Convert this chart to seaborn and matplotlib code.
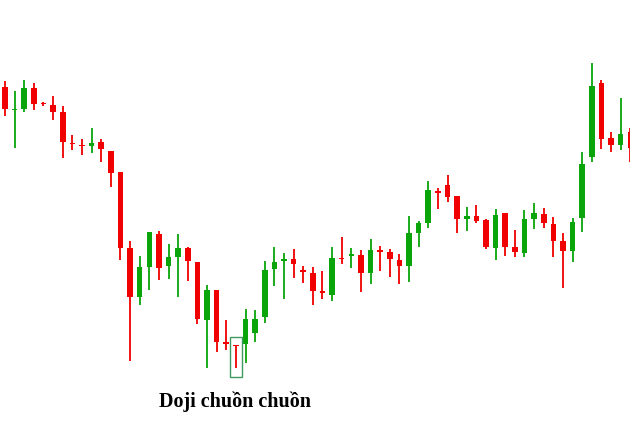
import numpy as np
import pandas as pd
import matplotlib
matplotlib.use("Agg")
import matplotlib.pyplot as plt
import seaborn as sns
from matplotlib.patches import Rectangle

opens  = [341,318,319,340,325,323,316,285,283,282,286,277,256,180,131,161,194,162,171,180,166,108,138,86,83,84,95,111,159,167,169,158,155,137,133,170,172,173,155,178,176,168,162,195,205,237,243,232,209,212,208,180,215,181,175,209,214,204,187,177,210,271,345,290,283,296]
closes = [319,319,340,324,324,316,286,284,282,285,279,255,180,131,161,196,160,171,180,167,109,138,86,84,82,109,109,158,166,169,164,156,137,135,170,169,174,155,178,176,169,162,195,205,238,235,231,209,212,207,181,213,181,176,209,215,205,187,177,206,264,342,289,283,294,280]
highs  = [347,337,348,345,326,332,322,293,289,300,289,277,256,187,172,196,197,184,194,181,166,143,138,108,83,119,118,167,181,175,179,162,161,157,181,191,180,178,189,182,179,174,212,207,247,240,253,232,221,223,209,219,215,198,218,225,220,211,195,210,276,365,348,296,330,300]
lows   = [312,280,316,318,322,308,270,278,273,275,266,241,168,67,123,138,148,149,131,147,104,60,76,78,60,65,86,105,142,129,150,145,123,129,127,164,160,136,144,157,151,144,146,181,200,219,226,195,197,205,179,168,172,171,171,199,200,171,140,166,196,266,279,276,278,266]

df = pd.DataFrame({"open": opens, "close": closes, "high": highs, "low": lows})
df["i"] = np.arange(len(df))
df["up"] = df["close"] >= df["open"]

sns.set_style("white")
fig = plt.figure(figsize=(6.3, 4.28), dpi=100)
ax = fig.add_axes([0, 0, 1, 1])
RED, GREEN = "#f00000", "#0aa50a"
colors = np.where(df["up"], GREEN, RED)
ax.vlines(df["i"], df["low"], df["high"], colors=colors, linewidth=1.3)
bottom = np.minimum(df["open"], df["close"])
height = np.maximum(np.abs(df["close"] - df["open"]), 1.5)
ax.bar(df["i"], height, bottom=bottom, width=0.58, color=colors, linewidth=0)

step = 9.62
ax.set_xlim(-5 / step, (630 - 5) / step)
ax.set_ylim(0, 428)
ax.axis("off")

ax.add_patch(Rectangle((24 - 0.6, 51), 1.2, 40, fill=False, edgecolor="#3f9a5e", linewidth=1))
ax.text(24 - 0.1, 26, "Doji chuồn chuồn", ha="center", va="center", color="black",
        family=["Liberation Serif", "DejaVu Serif"], fontweight="bold", fontsize=14.5)

fig.savefig("out.png", dpi=100)
